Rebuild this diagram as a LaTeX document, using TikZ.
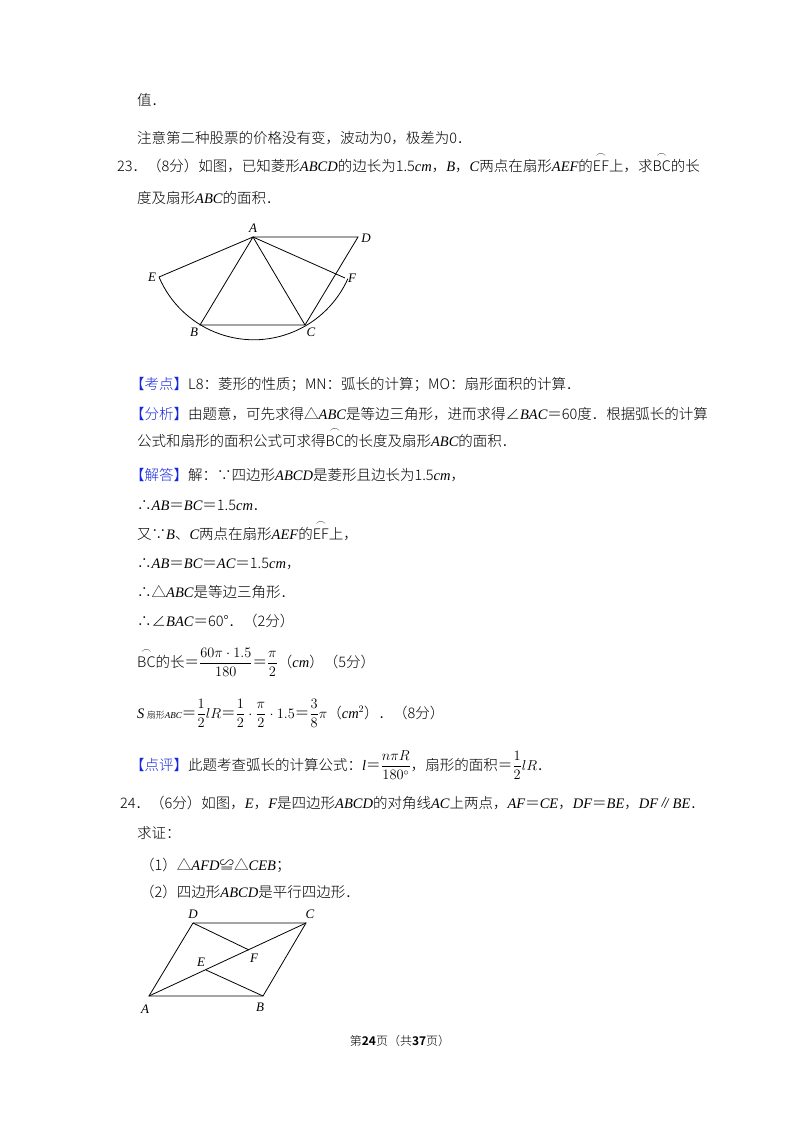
\documentclass[tikz,border=0pt]{standalone}
\usepackage{amsmath}
\usepackage{fontspec}
\setmainfont{Noto Sans CJK SC}[UprightFont=* Light]
\newfontfamily\lsf{Liberation Serif}
\newcommand{\vv}[1]{{\lsf\itshape #1}}
\newcommand{\arcx}[1]{\ensuremath{\overset{\frown}{\mathrm{#1}}}}
\newcommand{\kd}[1]{\textcolor{kblue}{【#1】}}
\definecolor{kblue}{RGB}{20,40,220}
\begin{document}
\begin{tikzpicture}[x=1pt,y=-1pt,
  txt/.style={anchor=base west,inner sep=0pt,font=\fontsize{14.5}{18}\selectfont},
  lab/.style={inner sep=0pt,font=\lsf\itshape\fontsize{13}{15}\selectfont},
  geo/.style={line width=0.8pt}]
\useasboundingbox (0,0) rectangle (800,1132);
\node[txt] (t1) at (137,105) {值．};
\node[txt] (t2) at (137,143) {注意第二种股票的价格没有变，波动为0，极差为0．};
\node[txt] (t3) at (117,171) {23．（8分）如图，已知菱形\vv{ABCD}的边长为1.5\vv{cm}，\vv{B}，\vv{C}两点在扇形\vv{AEF}的\arcx{EF}上，求\arcx{BC}的长};
\node[txt] (t4) at (137,203) {度及扇形\vv{ABC}的面积．};
% figure 1
\coordinate (A) at (253,237); \coordinate (D) at (358,237);
\coordinate (E) at (159,277); \coordinate (F) at (345,278);
\coordinate (B) at (200,325); \coordinate (C) at (305,325);
\draw[geo] (E) -- (A) -- (D) -- (C) -- (B) -- (A) -- (C);
\draw[geo] (A) -- (F);
\draw[geo] (E) arc[start angle=157,end angle=24,radius=103];
\node[lab] (lA) at (253,228) {A};
\node[lab] (lD) at (366,238) {D};
\node[lab] (lE) at (152,277) {E};
\node[lab] (lF) at (352,278) {F};
\node[lab] (lB) at (194,332) {B};
\node[lab] (lC) at (311,332) {C};
% analysis
\node[txt] (t5) at (130,389) {\kd{考点}L8：菱形的性质；MN：弧长的计算；MO：扇形面积的计算．};
\node[txt] (t6) at (130,419) {\kd{分析}由题意，可先求得△\vv{ABC}是等边三角形，进而求得∠\vv{BAC}＝60度．根据弧长的计算};
\node[txt] (t7) at (137,446) {公式和扇形的面积公式可求得\arcx{BC}的长度及扇形\vv{ABC}的面积．};
\node[txt] (t8) at (130,480) {\kd{解答}解：∵四边形\vv{ABCD}是菱形且边长为1.5\vv{cm}，};
\node[txt] (t9) at (137,510) {∴\vv{AB}＝\vv{BC}＝1.5\vv{cm}．};
\node[txt] (t10) at (137,539) {又∵\vv{B}、\vv{C}两点在扇形\vv{AEF}的\arcx{EF}上，};
\node[txt] (t11) at (137,568) {∴\vv{AB}＝\vv{BC}＝\vv{AC}＝1.5\vv{cm}，};
\node[txt] (t12) at (137,597) {∴△\vv{ABC}是等边三角形．};
\node[txt] (t13) at (137,626) {∴∠\vv{BAC}＝60°．（2分）};
\node[txt] (t14) at (137,667) {\arcx{BC}的长＝$\dfrac{60\pi\cdot1.5}{180}$＝$\dfrac{\pi}{2}$（\vv{cm}）（5分）};
\node[txt] (t15) at (137,718) {\vv{S}\,{\fontsize{9}{10}\selectfont 扇形\vv{ABC}}＝$\dfrac{1}{2}lR$＝$\dfrac{1}{2}\cdot\dfrac{\pi}{2}\cdot1.5$＝$\dfrac{3}{8}\pi$（\vv{cm}$^2$）．（8分）};
\node[txt] (t16) at (130,770) {\kd{点评}此题考查弧长的计算公式：\vv{l}＝$\dfrac{n\pi R}{180^\circ}$，扇形的面积＝$\dfrac{1}{2}lR$．};
\node[txt] (t17) at (120,808) {24．（6分）如图，\vv{E}，\vv{F}是四边形\vv{ABCD}的对角线\vv{AC}上两点，\vv{AF}＝\vv{CE}，\vv{DF}＝\vv{BE}，\vv{DF}∥\vv{BE}．};
\node[txt] (t18) at (137,838) {求证：};
\node[txt] (t19) at (140,870) {（1）△\vv{AFD}≌△\vv{CEB}；};
\node[txt] (t20) at (140,897) {（2）四边形\vv{ABCD}是平行四边形．};
% figure 2
\coordinate (A2) at (149,996); \coordinate (B2) at (263,996);
\coordinate (C2) at (306,923); \coordinate (D2) at (193,923);
\coordinate (E2) at (206,970); \coordinate (F2) at (249,950);
\draw[geo] (A2) -- (B2) -- (C2) -- (D2) -- cycle;
\draw[geo] (A2) -- (C2);
\draw[geo] (D2) -- (F2);
\draw[geo] (B2) -- (E2);
\node[lab] (lD2) at (193,914) {D};
\node[lab] (lC2) at (310,914) {C};
\node[lab] (lA2) at (145,1009) {A};
\node[lab] (lB2) at (260,1007) {B};
\node[lab] (lE2) at (201,962) {E};
\node[lab] (lF2) at (254,958) {F};
\node[inner sep=0pt,font=\fontsize{12}{14}\selectfont] (pg) at (400,1041) {第\textbf{24}页（共\textbf{37}页）};
\end{tikzpicture}
\end{document}
